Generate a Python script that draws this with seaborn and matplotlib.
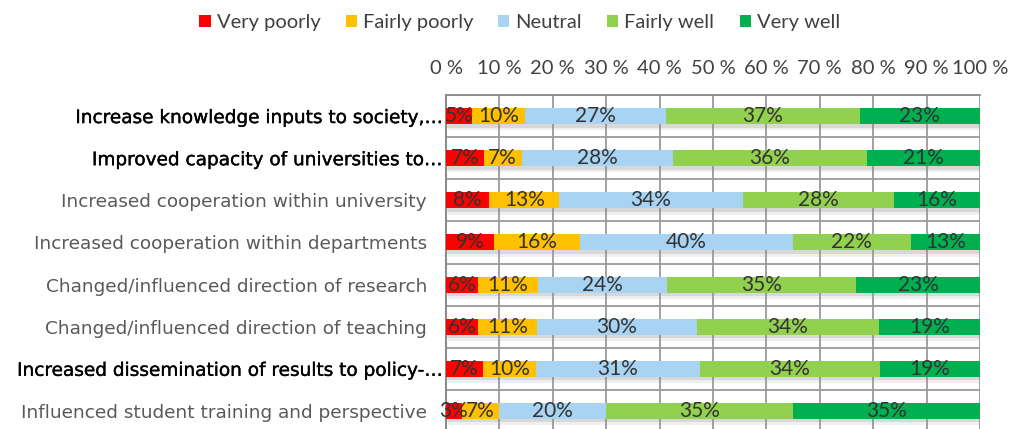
import numpy as np
import pandas as pd
import matplotlib
matplotlib.use("Agg")
import matplotlib.pyplot as plt
import matplotlib.patheffects as pe
import matplotlib.transforms as mtransforms
from matplotlib.patches import Patch
import seaborn as sns

# Survey items (top to bottom)
categories = [
    "Increase knowledge inputs to society,…",
    "Improved capacity of universities to…",
    "Increased cooperation within university",
    "Increased cooperation within departments",
    "Changed/influenced direction of research",
    "Changed/influenced direction of teaching",
    "Increased dissemination of results to policy-…",
    "Influenced student training and perspective",
]
truncated = [True, True, False, False, False, False, True, False]

levels = ["Very poorly", "Fairly poorly", "Neutral", "Fairly well", "Very well"]
very_poorly   = [5, 7, 8, 9, 6, 6, 7, 3]
fairly_poorly = [10, 7, 13, 16, 11, 11, 10, 7]
neutral       = [27, 28, 34, 40, 24, 30, 31, 20]
fairly_well   = [37, 36, 28, 22, 35, 34, 34, 35]
very_well     = [23, 21, 16, 13, 23, 19, 19, 35]

colors = ["#FF0000", "#FFC000", "#A9D3F3", "#92D050", "#00B050"]
tick_labels = [f"{v} %" for v in range(0, 101, 10)]

sns.set_theme(style="white")
plt.rcParams["font.family"] = ["DejaVu Sans"]

values = np.array([very_poorly, fairly_poorly, neutral, fairly_well, very_well], dtype=float)
shares = values / values.sum(axis=0) * 100.0  # 100 % stacked
cum = np.cumsum(shares, axis=0)
starts = cum - shares

fig = plt.figure(figsize=(10.15, 4.29), dpi=100)
ax = fig.add_axes([446 / 1015, -3 / 429, 534 / 1015, 337 / 429])

# Layered cumulative bars: widest first so each shorter layer sits on top
for i in range(len(levels) - 1, -1, -1):
    df = pd.DataFrame({"item": categories, "cum": cum[i]})
    sns.barplot(data=df, x="cum", y="item", orient="h", color=colors[i],
                saturation=1, width=0.38, ax=ax, zorder=3, linewidth=0)
    if i == len(levels) - 1:
        for p in ax.patches:
            p.set_path_effects([
                pe.SimplePatchShadow(offset=(1.5, -4.5), shadow_rgbFace="#9a9a9a", alpha=0.15),
                pe.SimplePatchShadow(offset=(1.0, -2.5), shadow_rgbFace="#8a8a8a", alpha=0.22),
                pe.Normal()])

# Segment value labels
label_font = ["Lato", "DejaVu Sans"]
for i in range(len(levels)):
    for j in range(len(categories)):
        ax.text(starts[i, j] + shares[i, j] / 2, j, f"{int(values[i, j])}%",
                ha="center", va="center", fontsize=15, color="#333333",
                family=label_font, zorder=5)

ax.set_xlim(0, 100)
ax.set_ylim(len(categories) - 0.5, -0.5)
ax.set_xlabel("")
ax.set_ylabel("")

ax.xaxis.tick_top()
ax.set_xticks(range(0, 101, 10))
ax.set_xticklabels(tick_labels, family=label_font, fontsize=14.5, color="#404040")
ax.tick_params(axis="x", length=0, pad=13)
ax.tick_params(axis="y", length=0, pad=13.7)

ax.set_yticks(range(len(categories)))
ax.set_yticklabels(categories, fontsize=13.3)
shift = mtransforms.ScaledTranslation(16 / 100, 0, fig.dpi_scale_trans)
for lbl, t in zip(ax.get_yticklabels(), truncated):
    if t:
        lbl.set_color("#000000")
        lbl.set_path_effects([pe.withStroke(linewidth=0.25, foreground="#000000")])
        lbl.set_transform(lbl.get_transform() + shift)
    else:
        lbl.set_color("#595959")

# Grid: vertical at each 10 %, horizontal at category boundaries
ax.set_yticks(np.arange(-0.5, len(categories), 1.0), minor=True)
ax.tick_params(axis="y", which="minor", length=0)
ax.grid(True, axis="x", which="major", color="#9a9a9a", linewidth=1.3, zorder=0)
ax.grid(True, axis="y", which="minor", color="#9a9a9a", linewidth=1.3, zorder=0)
ax.grid(False, axis="y", which="major")
ax.set_axisbelow(True)

for s in ["right", "bottom"]:
    ax.spines[s].set_visible(False)
ax.spines["left"].set_color("#8c8c8c")
ax.spines["left"].set_linewidth(1.5)
ax.spines["top"].set_color("#8c8c8c")
ax.spines["top"].set_linewidth(1.3)

handles = [Patch(facecolor=c, edgecolor="none", label=l) for c, l in zip(colors, levels)]
fig.legend(handles=handles, loc="center", bbox_to_anchor=(0.512, 0.948), ncol=5,
           frameon=False, handlelength=0.55, handleheight=0.55, handletextpad=0.3,
           columnspacing=1.25, prop={"family": label_font, "size": 14.5},
           labelcolor="#404040")

fig.savefig("out.png", dpi=100)
